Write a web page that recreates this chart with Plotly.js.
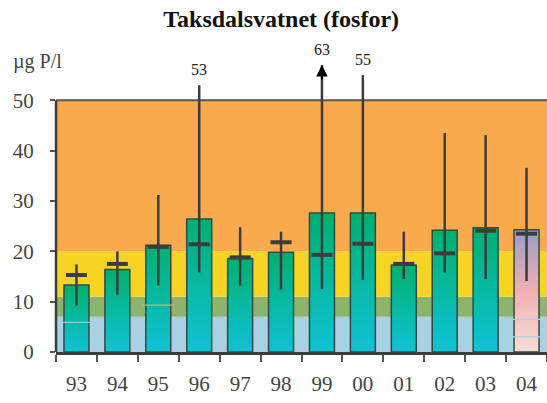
<!DOCTYPE html>
<html><head><meta charset="utf-8">
<script src="https://cdn.plot.ly/plotly-3.0.1.min.js"></script>
<style>html,body{margin:0;padding:0;background:#fff}#chart{width:547px;height:403px}</style>
</head><body><div id="chart"></div>
<script>
// ---- data ----
const years      = ['93','94','95','96','97','98','99','00','01','02','03','04'];
const meanVals   = [13.3, 16.4, 21.2, 26.4, 18.6, 19.8, 27.6, 27.6, 17.3, 24.2, 24.7, 24.3];
const medianVals = [15.3, 17.5, 20.9, 21.4, 18.8, 21.8, 19.3, 21.5, 17.5, 19.6, 24.1, 23.5];
const minVals    = [ 9.2, 11.4, 13.2, 15.8, 13.2, 12.4, 12.5, 14.3, 14.5, 15.8, 14.5, 14.1];
const maxVals    = [17.4, 20.0, 31.2, 53,   24.8, 23.9, 63,   55,   23.9, 43.5, 43.1, 36.6];
const classBreaks = [0, 7, 11, 20, 50];
const classColors = ['#a9d1e4', '#8db46c', '#f5d423', '#f8aa4c'];
const yTicks = [0, 10, 20, 30, 40, 50];
const axisMax = 50;
const arrowCap = 57;
// faint inner marks visible inside some bars
const innerYears  = ['93', '95', '04', '04'];
const innerVals   = [5.9, 9.3, 6.5, 3.0];
const innerColors = ['rgba(170,235,235,0.7)', '#c9b54a', '#a9d1ec', '#a9d1ec'];

const lineCol = '#3c3c3c';
const serif = '"Liberation Serif", "Times New Roman", serif';

// whisker segments
const wx = [], wy = [];
years.forEach((y, i) => {
  wx.push(y, y, null);
  wy.push(minVals[i], Math.min(maxVals[i], arrowCap), null);
});

const data = [
  {type: 'bar', x: years, y: meanVals,
   marker: {color: years.map((y, i) => i === years.length - 1 ? '#eeb6b6' : '#06b8a2'),
            line: {color: '#2f4a44', width: 1.5}},
   hoverinfo: 'skip'},
  {type: 'scatter', mode: 'markers', x: innerYears, y: innerVals,
   marker: {symbol: 'line-ew', size: 23, line: {color: innerColors, width: 1.2}},
   hoverinfo: 'skip'},
  {type: 'scatter', mode: 'lines', x: wx, y: wy,
   line: {color: lineCol, width: 2.5}, hoverinfo: 'skip', connectgaps: false},
  {type: 'scatter', mode: 'markers', x: years, y: medianVals,
   marker: {symbol: 'line-ew', size: 15, line: {color: lineCol, width: 4}},
   hoverinfo: 'skip'}
];

const shapes = [];
for (let k = 0; k < classColors.length; k++) {
  shapes.push({type: 'rect', xref: 'paper', yref: 'y', x0: 0, x1: 1,
    y0: classBreaks[k], y1: classBreaks[k + 1], fillcolor: classColors[k],
    line: {width: 0}, layer: 'below'});
}
shapes.push({type: 'line', xref: 'paper', yref: 'y', x0: 0, x1: 1, y0: axisMax, y1: axisMax,
  line: {color: '#555', width: 2}, layer: 'below'});
shapes.push({type: 'line', xref: 'paper', yref: 'y', x0: 0, x1: 0, y0: 0, y1: axisMax,
  line: {color: lineCol, width: 2.5}});

const annotations = [];
years.forEach((y, i) => {
  if (maxVals[i] > axisMax) {
    const top = Math.min(maxVals[i], arrowCap);
    annotations.push({x: i, y: top, xref: 'x', yref: 'y', text: String(maxVals[i]),
      showarrow: false, yanchor: 'bottom', yshift: 5,
      font: {family: serif, size: 16, color: '#222'}});
    if (maxVals[i] > arrowCap) {
      annotations.push({x: i, y: top, xref: 'x', yref: 'y', text: '',
        showarrow: true, ax: 0, ay: 16, arrowhead: 2, arrowsize: 1.15, arrowwidth: 2,
        arrowcolor: '#000'});
    }
  }
});
annotations.push({xref: 'paper', yref: 'paper', x: -0.037, y: 0.961, text: 'µg P/l',
  showarrow: false, xanchor: 'center', yanchor: 'middle',
  font: {family: serif, size: 20, color: '#444'}});

const layout = {
  width: 547, height: 403,
  margin: {l: 56, r: 0, t: 50, b: 51},
  paper_bgcolor: '#fff', plot_bgcolor: 'rgba(0,0,0,0)',
  showlegend: false, bargap: 0.39,
  font: {family: serif, color: '#444'},
  title: {text: '<b>Taksdalsvatnet (fosfor)</b>', xref: 'container', x: 0.514, xanchor: 'center',
    yref: 'container', y: 0.953, yanchor: 'middle',
    font: {family: serif, size: 24, color: '#111'}},
  xaxis: {type: 'category', range: [-0.5, 11.5], tickson: 'boundaries', ticks: 'outside',
    ticklen: 7, tickwidth: 2, tickcolor: '#555', showline: true, linewidth: 3, linecolor: lineCol,
    showgrid: false, zeroline: false, tickfont: {family: serif, size: 21, color: '#444'},
    ticklabelstandoff: 11},
  yaxis: {range: [0, 60], tickvals: yTicks, ticks: 'outside', ticklen: 5, tickwidth: 2,
    tickcolor: '#555', showline: false, showgrid: false, zeroline: false,
    tickfont: {family: serif, size: 21, color: '#444'}, ticklabelstandoff: 12},
  shapes: shapes,
  annotations: annotations
};

const gd = document.getElementById('chart');
Plotly.newPlot(gd, data, layout, {staticPlot: true, displayModeBar: false}).then(() => {
  const ns = 'http://www.w3.org/2000/svg';
  const svg = gd.querySelector('svg.main-svg');
  let defs = svg.querySelector('defs');
  if (!defs) { defs = document.createElementNS(ns, 'defs'); svg.insertBefore(defs, svg.firstChild); }
  function grad(id, stops) {
    const g = document.createElementNS(ns, 'linearGradient');
    g.setAttribute('id', id);
    g.setAttribute('x1', '0'); g.setAttribute('y1', '0');
    g.setAttribute('x2', '0'); g.setAttribute('y2', '1');
    stops.forEach(([o, c]) => {
      const s = document.createElementNS(ns, 'stop');
      s.setAttribute('offset', o); s.setAttribute('stop-color', c);
      g.appendChild(s);
    });
    defs.appendChild(g);
  }
  grad('gGreen', [[0, '#00b06e'], [1, '#10c2d8']]);
  grad('gPink', [[0, '#9a9dc6'], [0.5, '#efb0b4'], [1, '#f8ded4']]);
  gd.querySelectorAll('.barlayer .point path').forEach((p, i) => {
    p.style.fill = (i === years.length - 1) ? 'url(#gPink)' : 'url(#gGreen)';
  });
});
</script>
</body></html>
